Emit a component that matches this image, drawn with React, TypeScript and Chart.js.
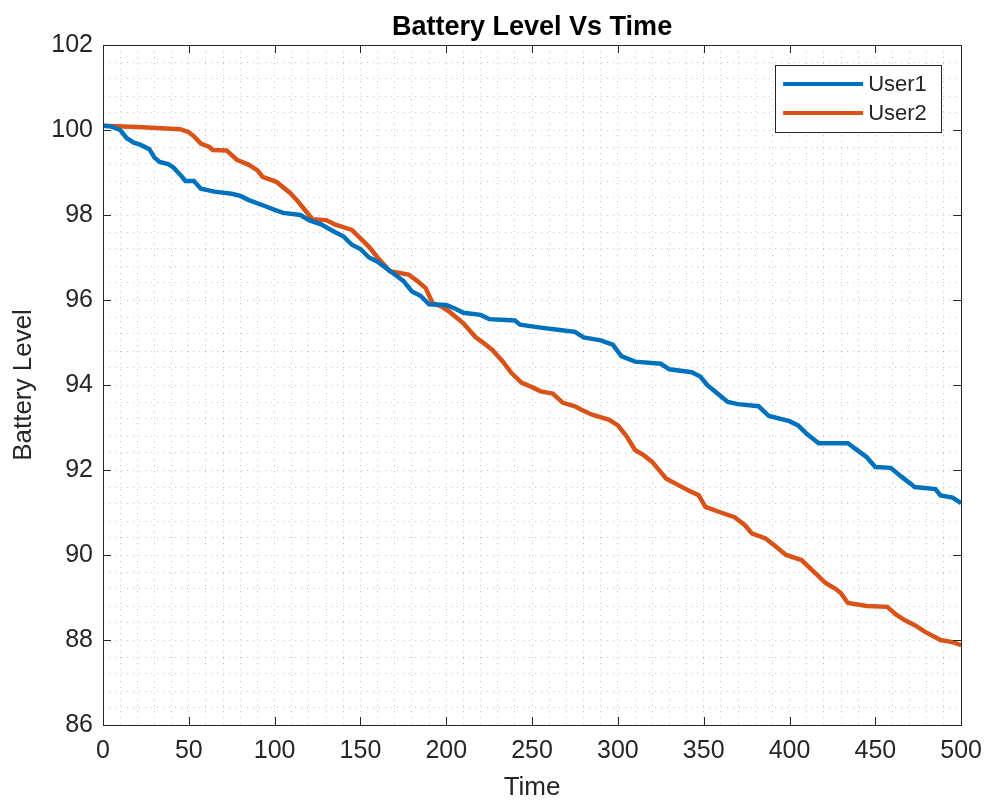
import React, { useEffect, useRef } from "react";
import { Chart, registerables } from "chart.js";

Chart.register(...registerables);

const chartTitle = "Battery Level Vs Time";
const xAxisTitle = "Time";
const yAxisTitle = "Battery Level";
const seriesNames = ["User1", "User2"];
const seriesColors = ["#0072BD", "#D95319"];

const xMajorTicks = [0, 50, 100, 150, 200, 250, 300, 350, 400, 450, 500];
const yMajorTicks = [86, 88, 90, 92, 94, 96, 98, 100, 102];

const user1Time = [
  0, 5, 10, 14, 18, 22, 27, 30, 33, 38, 41, 45, 48, 53, 57, 65, 75, 80, 85, 95,
  100, 105, 115, 120, 127, 135, 140, 145, 150, 155, 160, 165, 170, 175, 180, 185,
  190, 200, 205, 210, 220, 225, 240, 243, 255, 265, 275, 280, 290, 297, 302, 310,
  325, 330, 343, 348, 352, 358, 364, 370, 382, 388, 400, 405, 410, 417, 434, 440,
  445, 450, 459, 465, 473, 485, 488, 495, 500,
];
const user1Level = [
  100.1, 100.08, 100.0, 99.8, 99.7, 99.65, 99.55, 99.35, 99.25, 99.2, 99.12, 98.95,
  98.8, 98.8, 98.62, 98.55, 98.5, 98.45, 98.35, 98.2, 98.12, 98.05, 98.0, 97.88,
  97.78, 97.6, 97.5, 97.3, 97.2, 97.0, 96.9, 96.75, 96.6, 96.45, 96.2, 96.1, 95.9,
  95.88, 95.8, 95.7, 95.65, 95.55, 95.52, 95.42, 95.35, 95.3, 95.25, 95.12, 95.05,
  94.95, 94.68, 94.55, 94.5, 94.37, 94.3, 94.2, 94.0, 93.8, 93.6, 93.55, 93.5,
  93.27, 93.15, 93.05, 92.85, 92.63, 92.63, 92.45, 92.3, 92.07, 92.05, 91.85, 91.6,
  91.55, 91.4, 91.35, 91.22,
];

const user2Time = [
  0, 20, 45, 50, 53, 57, 62, 64, 72, 78, 85, 90, 93, 101, 105, 109, 113, 116, 122,
  130, 135, 145, 150, 155, 160, 167, 178, 183, 188, 192, 197, 202, 210, 217, 222,
  227, 233, 238, 244, 250, 255, 262, 268, 275, 279, 285, 295, 300, 305, 310, 315,
  320, 325, 328, 335, 342, 347, 351, 360, 368, 374, 378, 386, 392, 398, 407, 413,
  421, 427, 430, 434, 445, 457, 462, 467, 473, 479, 488, 495, 500,
];
const user2Level = [
  100.1, 100.07, 100.02, 99.95, 99.85, 99.68, 99.6, 99.53, 99.52, 99.3, 99.18,
  99.05, 98.9, 98.78, 98.65, 98.52, 98.35, 98.2, 97.9, 97.88, 97.78, 97.65, 97.45,
  97.25, 97.0, 96.68, 96.6, 96.45, 96.28, 95.93, 95.85, 95.72, 95.45, 95.13, 94.98,
  94.82, 94.55, 94.28, 94.05, 93.95, 93.85, 93.8, 93.58, 93.5, 93.41, 93.3, 93.18,
  93.05, 92.8, 92.47, 92.35, 92.19, 91.95, 91.8, 91.65, 91.5, 91.41, 91.13, 91.0,
  90.89, 90.7, 90.51, 90.39, 90.2, 90.0, 89.88, 89.65, 89.34, 89.2, 89.1, 88.87,
  88.8, 88.78, 88.6, 88.47, 88.35, 88.19, 88.0, 87.95, 87.88,
];

const FONT = "'Liberation Sans', Arial, Helvetica, sans-serif";
const TEXT = "#262626";
const GRID = "rgba(0,0,0,0.22)";

const framePlugin = {
  id: "matlabFrame",
  afterDatasetsDraw(chart: any) {
    const { ctx, chartArea: a, scales } = chart;
    const tl = 8;
    ctx.save();
    ctx.strokeStyle = TEXT;
    ctx.lineWidth = 1;
    ctx.setLineDash([]);
    ctx.beginPath();
    xMajorTicks.forEach((v) => {
      const px = Math.round(scales.x.getPixelForValue(v)) + 0.5;
      ctx.moveTo(px, a.bottom);
      ctx.lineTo(px, a.bottom - tl);
      ctx.moveTo(px, a.top);
      ctx.lineTo(px, a.top + tl);
    });
    yMajorTicks.forEach((v) => {
      const py = Math.round(scales.y.getPixelForValue(v)) + 0.5;
      ctx.moveTo(a.left, py);
      ctx.lineTo(a.left + tl, py);
      ctx.moveTo(a.right, py);
      ctx.lineTo(a.right - tl, py);
    });
    ctx.stroke();
    ctx.strokeRect(
      Math.round(a.left) + 0.5,
      Math.round(a.top) + 0.5,
      Math.round(a.right - a.left),
      Math.round(a.bottom - a.top)
    );

    // legend box
    const boxRight = a.right - 20;
    const boxTop = a.top + 20;
    const boxW = 166;
    const boxH = 67;
    const boxLeft = boxRight - boxW;
    ctx.fillStyle = "#ffffff";
    ctx.fillRect(boxLeft, boxTop, boxW, boxH);
    ctx.strokeStyle = TEXT;
    ctx.lineWidth = 1;
    ctx.strokeRect(Math.round(boxLeft) + 0.5, Math.round(boxTop) + 0.5, boxW, boxH);
    chart.data.datasets.forEach((ds: any, i: number) => {
      const cy = boxTop + 19 + i * 29;
      ctx.strokeStyle = ds.borderColor;
      ctx.lineWidth = 4;
      ctx.beginPath();
      ctx.moveTo(boxLeft + 8, cy);
      ctx.lineTo(boxLeft + 88, cy);
      ctx.stroke();
      ctx.fillStyle = TEXT;
      ctx.font = `22px ${FONT}`;
      ctx.textBaseline = "middle";
      ctx.textAlign = "left";
      ctx.fillText(ds.label, boxLeft + 93, cy + 1);
    });
    ctx.restore();
  },
};

export default function App() {
  const canvasRef = useRef<HTMLCanvasElement | null>(null);

  useEffect(() => {
    if (!canvasRef.current) return;
    const chart = new Chart(canvasRef.current, {
      type: "line",
      data: {
        datasets: [
          {
            label: seriesNames[0],
            data: user1Time.map((t, i) => ({ x: t, y: user1Level[i] })),
            borderColor: seriesColors[0],
            backgroundColor: seriesColors[0],
            borderWidth: 4.5,
            pointRadius: 0,
            tension: 0,
            fill: false,
          },
          {
            label: seriesNames[1],
            data: user2Time.map((t, i) => ({ x: t, y: user2Level[i] })),
            borderColor: seriesColors[1],
            backgroundColor: seriesColors[1],
            borderWidth: 4.5,
            pointRadius: 0,
            tension: 0,
            fill: false,
          },
        ],
      },
      options: {
        responsive: false,
        animation: false,
        layout: { padding: { left: 0, right: 30, top: 0, bottom: 0 } },
        plugins: {
          legend: { display: false },
          tooltip: { enabled: false },
          title: {
            display: true,
            text: chartTitle,
            fullSize: false,
            color: "#000000",
            font: { family: FONT, size: 27, weight: "bold" },
            padding: { top: 11, bottom: 1.6 },
          },
        },
        scales: {
          x: {
            type: "linear",
            min: 0,
            max: 500,
            afterFit(scale: any) {
              scale.height = 80;
            },
            ticks: {
              stepSize: 10,
              autoSkip: false,
              maxRotation: 0,
              minRotation: 0,
              padding: 11,
              color: TEXT,
              font: { family: FONT, size: 25 },
              callback: (v: any) => (Math.abs(Number(v) % 50) < 1e-6 ? String(Math.round(Number(v))) : ""),
            },
            grid: {
              drawTicks: false,
              color: GRID,
              lineWidth: 1,
            },
            border: { display: false, dash: [1, 5] },
            title: {
              display: true,
              text: xAxisTitle,
              color: TEXT,
              font: { family: FONT, size: 26 },
              padding: { top: 0, bottom: 2 },
            },
          },
          y: {
            type: "linear",
            min: 86,
            max: 102,
            afterFit(scale: any) {
              scale.width = 103;
            },
            ticks: {
              stepSize: 0.4,
              autoSkip: false,
              padding: 10,
              color: TEXT,
              font: { family: FONT, size: 25 },
              callback: (v: any) => {
                const n = Number(v);
                return Math.abs(n / 2 - Math.round(n / 2)) < 1e-6 ? String(Math.round(n)) : "";
              },
            },
            grid: {
              drawTicks: false,
              color: GRID,
              lineWidth: 1,
            },
            border: { display: false, dash: [1, 5] },
            title: {
              display: true,
              text: yAxisTitle,
              color: TEXT,
              font: { family: FONT, size: 26 },
              padding: { top: 8, bottom: 0 },
            },
          },
        },
      },
      plugins: [framePlugin],
    } as any);
    return () => chart.destroy();
  }, []);

  return (
    <div style={{ position: "absolute", left: 0, top: 0, width: 993, height: 805, background: "#ffffff" }}>
      <canvas ref={canvasRef} width={993} height={805} style={{ display: "block" }} />
    </div>
  );
}
